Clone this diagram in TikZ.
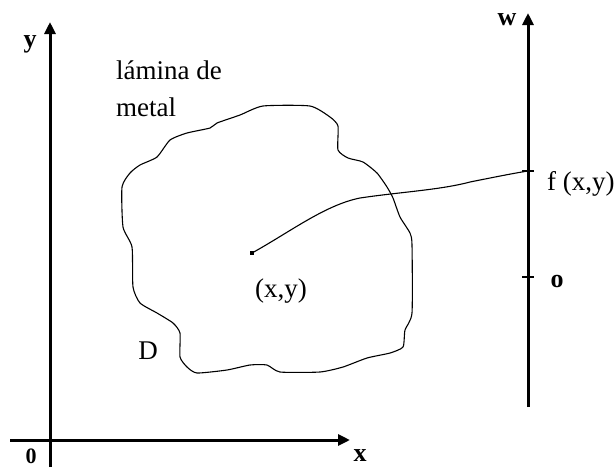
\documentclass[tikz,border=0pt]{standalone}
\usepackage{fontspec}
\setmainfont{Liberation Serif}
\usetikzlibrary{arrows.meta}
\begin{document}
\begin{tikzpicture}[x=1pt,y=-1pt,
  axis/.style={line width=3pt,-{Triangle[length=12pt,width=11pt]}},
  tick/.style={line width=2.4pt},
  thin/.style={line width=1.1pt},
  lbl/.style={font=\fontsize{27}{30}\selectfont,inner sep=0pt},
  blbl/.style={font=\fontsize{26}{28}\selectfont\bfseries,inner sep=0pt}]
\useasboundingbox (0,0) rectangle (614,467);
% axes
\coordinate (ybot) at (50,467);
\coordinate (ytop) at (50,22);
\coordinate (xleft) at (10,440);
\coordinate (xright) at (350,440);
\draw[axis] (ybot) -- (ytop);
\draw[axis] (xleft) -- (xright);
\coordinate (wbot) at (528,407);
\coordinate (wtop) at (528,13);
\draw[axis] (wbot) -- (wtop);
\coordinate (tf) at (528,171);
\coordinate (to) at (528,277);
\draw[tick] (522,171) -- (534,171);
\draw[tick] (522,277) -- (534,277);
% labels
\node[blbl] (ly) at (30,44) {y};
\node[blbl] (lx) at (360,456) {x};
\node[blbl,font=\fontsize{22}{24}\selectfont\bfseries] (l0) at (31,456) {0};
\node[blbl] (lw) at (507,20) {w};
\node[blbl] (lo) at (557,281) {o};
\node[lbl,anchor=west] (lf) at (547,184) {f (x,y)};
\node[lbl,anchor=base west] (lam) at (116,79) {lámina de};
\node[lbl,anchor=base west] (lmet) at (116,116) {metal};
\node[lbl] (lD) at (148,351) {D};
\node[lbl] (lxy) at (281,291) {(x,y)};
% blob
\draw[thin] plot[smooth cycle,tension=0.35] coordinates {
(263,106) (310,106) (330,117) (338,126) (338,150) (348,158) (363,162)
(377,173) (387,187) (393,198) (400,217) (410,233) (412,245) (412,313)
(405,330) (403,347) (390,353) (367,358) (343,367) (320,372) (280,372)
(267,365) (250,365) (227,370) (197,373) (187,367) (180,357) (180,333)
(173,323) (157,313) (140,303) (133,287) (132,247) (123,227) (122,187)
(130,173) (140,165) (157,157) (170,140) (187,133) (210,128) (217,123)
(240,115)};
% point and curve
\node[rectangle,fill,inner sep=0pt,minimum size=4pt] (pt) at (252,253) {};
\draw[thin] (pt.center) .. controls (290,232) and (325,205) .. (360,198)
  .. controls (400,192) and (440,190) .. (470,182)
  .. controls (495,177) and (515,173) .. (tf);
\end{tikzpicture}
\end{document}
